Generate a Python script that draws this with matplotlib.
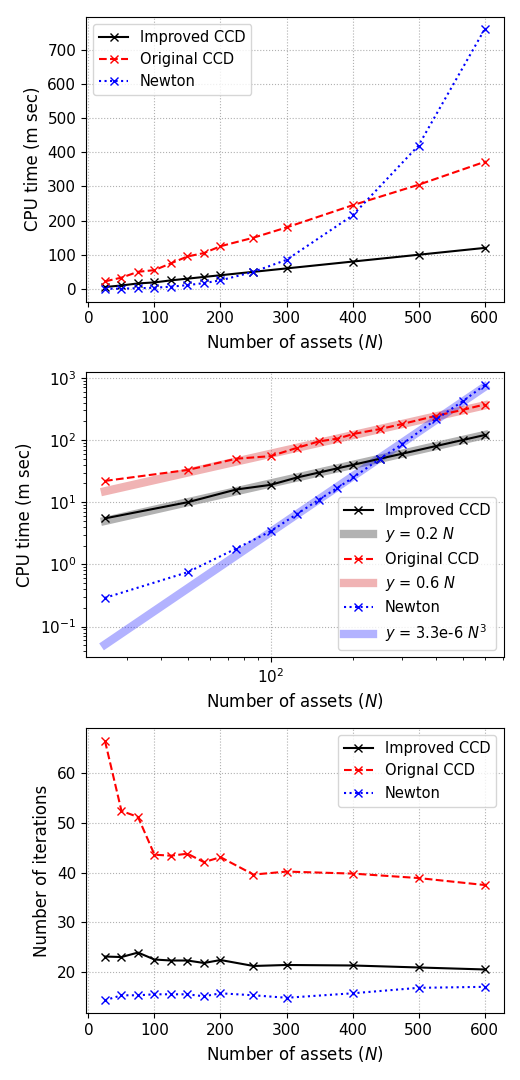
import numpy as np
import matplotlib
matplotlib.use("Agg")
import matplotlib.pyplot as plt

plt.rcParams['font.size'] = 11
plt.rcParams['axes.labelsize'] = 12

n_assets = [25, 50, 75, 100, 125, 150, 175, 200, 250, 300, 400, 500, 600]
time_improved = [5.5, 10, 16, 19, 25, 30, 35, 40, 50, 60, 80, 100, 120]
time_original = [22, 33, 50, 55, 75, 95, 105, 125, 150, 180, 245, 305, 372]
time_newton = [0.29, 0.75, 1.8, 3.4, 6.5, 11, 17, 25, 50, 85, 215, 420, 760]
iter_improved = [23.1, 23.0, 23.9, 22.5, 22.3, 22.3, 21.8, 22.4, 21.2, 21.4, 21.3, 20.9, 20.5]
iter_original = [66.5, 52.4, 51.2, 43.6, 43.4, 43.8, 42.1, 43.1, 39.6, 40.2, 39.8, 38.9, 37.5]
iter_newton = [14.3, 15.3, 15.3, 15.5, 15.5, 15.5, 15.1, 15.7, 15.3, 14.8, 15.7, 16.8, 17.0]

N = np.array(n_assets, dtype=float)
fig, (ax1, ax2, ax3) = plt.subplots(3, 1, figsize=(5.2, 10.8), dpi=100)

ax1.plot(N, time_improved, 'k-x', label='Improved CCD')
ax1.plot(N, time_original, 'r--x', label='Original CCD')
ax1.plot(N, time_newton, 'b:x', label='Newton')
ax1.set_xlabel('Number of assets ($N$)')
ax1.set_ylabel('CPU time (m sec)')
ax1.grid(ls=':')
ax1.legend(loc='upper left', fontsize=10.5)

ax2.plot(N, time_improved, 'k-x', label='Improved CCD', zorder=3)
ax2.plot(N, 0.2 * N, color='gray', lw=6, alpha=0.6, label='$y$ = 0.2 $N$')
ax2.plot(N, time_original, 'r--x', label='Original CCD', zorder=3)
ax2.plot(N, 0.6 * N, color='tab:red', lw=6, alpha=0.35, label='$y$ = 0.6 $N$')
ax2.plot(N, time_newton, 'b:x', label='Newton', zorder=3)
ax2.plot(N, 3.3e-6 * N ** 3, color='blue', lw=6, alpha=0.3, label='$y$ = 3.3e-6 $N^3$')
ax2.set_xscale('log')
ax2.set_yscale('log')
ax2.set_xlabel('Number of assets ($N$)')
ax2.set_ylabel('CPU time (m sec)')
ax2.grid(ls=':')
ax2.legend(loc='lower right', fontsize=10.5)

ax3.plot(N, iter_improved, 'k-x', label='Improved CCD')
ax3.plot(N, iter_original, 'r--x', label='Orignal CCD')
ax3.plot(N, iter_newton, 'b:x', label='Newton')
ax3.set_xlabel('Number of assets ($N$)')
ax3.set_ylabel('Number of iterations')
ax3.grid(ls=':')
ax3.legend(loc='upper right', fontsize=10.5)

fig.tight_layout()
fig.savefig('out.png')
